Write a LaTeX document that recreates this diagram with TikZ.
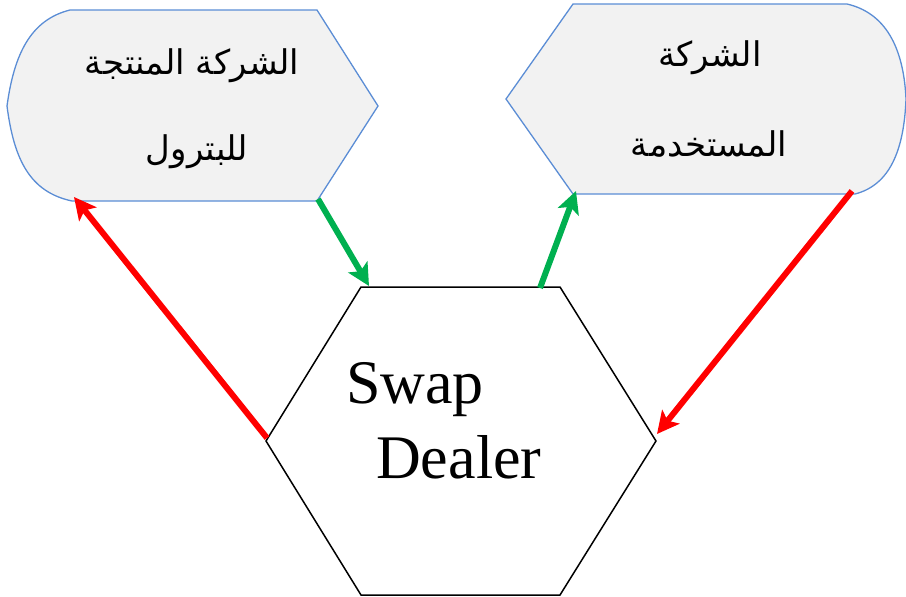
\documentclass[tikz,border=0pt]{standalone}
\usepackage{fontspec}
\setmainfont{Liberation Serif}
\newfontfamily\arabicfont[Script=Arabic]{DejaVu Sans}
\TeXXeTstate=1
\usetikzlibrary{arrows.meta}
\definecolor{boxblue}{RGB}{91,141,213}
\definecolor{boxfill}{RGB}{242,242,242}
\definecolor{agreen}{RGB}{0,176,80}
\definecolor{ared}{RGB}{255,0,0}
\tikzset{
  dispbox/.style={draw=boxblue, fill=boxfill, line width=1.3pt},
  hexbox/.style={draw=black, fill=white, line width=1.5pt},
  flow/.style={line width=6pt, -{Stealth[length=22pt,width=22pt,inset=5pt]}},
  artext/.style={font=\arabicfont\fontsize{34}{40}\selectfont, inner sep=0pt},
  entext/.style={font=\fontsize{62}{70}\selectfont, inner sep=0pt, anchor=base west}
}
\begin{document}
\begin{tikzpicture}[x=1pt,y=-1pt]
\useasboundingbox (0,0) rectangle (906,597);
% left display shape
\draw[dispbox] (70,10) -- (317,10) -- (378,106) -- (317,201) -- (72,201)
  .. controls (30,192) and (14,160) .. (7,106)
  .. controls (14,55) and (30,20) .. (70,10) -- cycle;
% right display shape
\draw[dispbox] (573,4) -- (847,4)
  .. controls (890,14) and (904,55) .. (906,99)
  .. controls (904,150) and (890,185) .. (855,194)
  -- (573,194) -- (506,99) -- cycle;
% hexagon
\draw[hexbox] (361,287) -- (560,287) -- (656,441) -- (560,595) -- (361,595) -- (266,441) -- cycle;
% connector end points
\coordinate (lbr) at (318,199);
\coordinate (htl) at (369,286);
\coordinate (htr) at (540,288);
\coordinate (rbl) at (576,191);
\coordinate (hl) at (267,438);
\coordinate (lbl) at (74,197);
\coordinate (rbr) at (852,191);
\coordinate (hr) at (657,434);
% texts
\node[artext] (l1) at (192,66) {\beginR الشركة المنتجة\endR};
\node[artext] (l2) at (197,152) {\beginR للبترول\endR};
\node[artext] (r1) at (710,58) {\beginR الشركة\endR};
\node[artext] (r2) at (709,144) {\beginR المستخدمة\endR};
\node[entext] (sw) at (346,403) {Swap};
\node[entext] (dl) at (376,478) {Dealer};
% connectors
\draw[flow, agreen] (lbr) -- (htl);
\draw[flow, agreen] (htr) -- (rbl);
\draw[flow, ared] (hl) -- (lbl);
\draw[flow, ared] (rbr) -- (hr);
\end{tikzpicture}
\end{document}
